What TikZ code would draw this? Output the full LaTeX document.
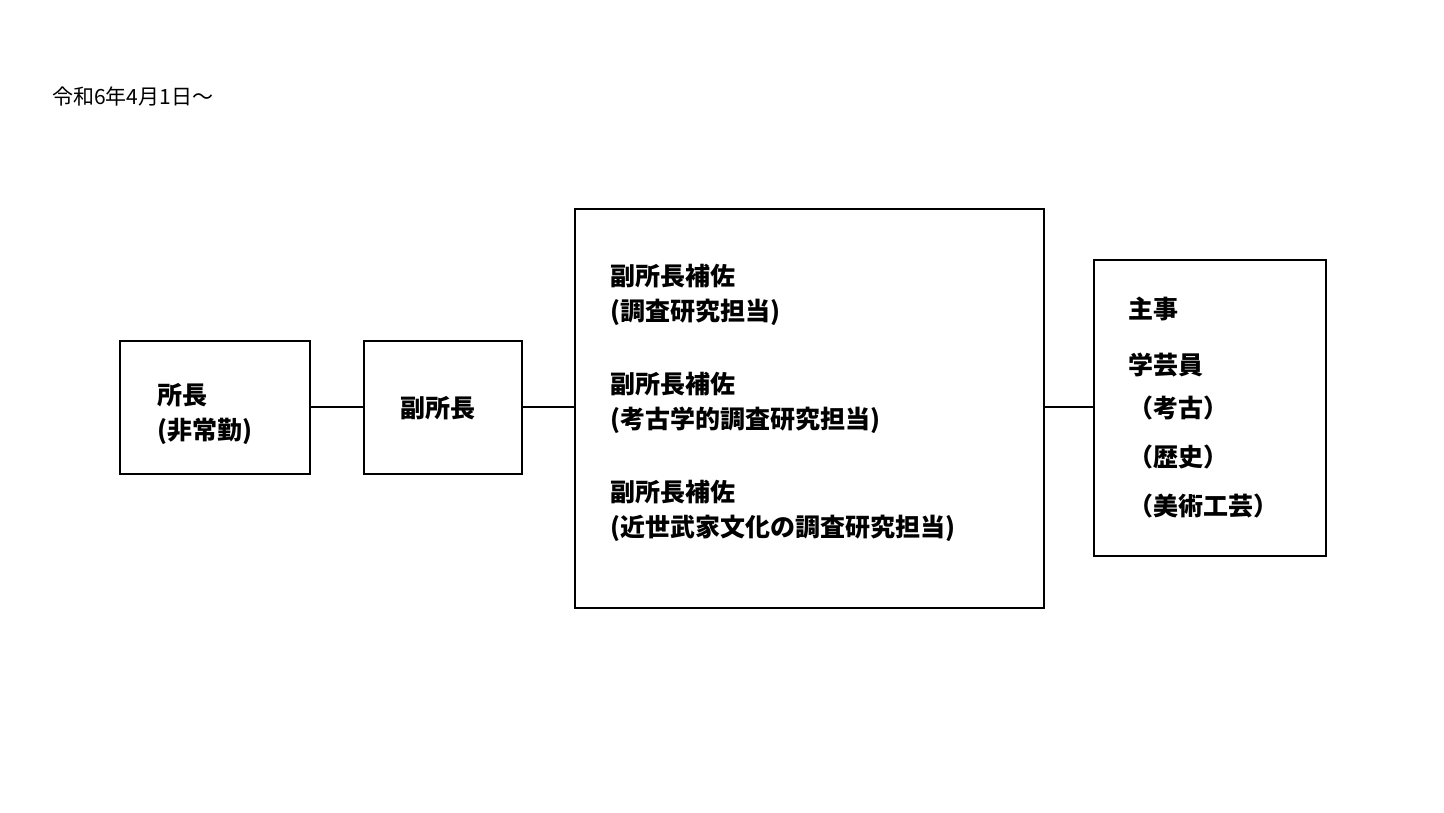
\documentclass[tikz,border=0pt]{standalone}
\usepackage{fontspec}
\setmainfont{Noto Sans CJK JP}
\begin{document}
\begin{tikzpicture}[x=1pt,y=-1pt,
  boxst/.style={draw,line width=2.6pt},
  lbl/.style={anchor=west,inner sep=0pt,font=\fontsize{25}{30}\selectfont\bfseries},
  conn/.style={line width=2.6pt}]
\useasboundingbox (0,0) rectangle (1444,813);
\node[anchor=west,inner sep=0pt,font=\fontsize{21}{25}\selectfont] (title) at (52,96) {令和6年4月1日～};
\draw[boxst] (120,341) rectangle (310,474);
\draw[boxst] (364,341) rectangle (522,474);
\draw[boxst] (575,209) rectangle (1044,608);
\draw[boxst] (1094,260) rectangle (1326,556);
\coordinate (b1r) at (310,407); \coordinate (b2l) at (364,407);
\coordinate (b2r) at (522,407); \coordinate (b3l) at (575,407);
\coordinate (b3r) at (1044,407); \coordinate (b4l) at (1094,407);
\draw[conn] (b1r) -- (b2l);
\draw[conn] (b2r) -- (b3l);
\draw[conn] (b3r) -- (b4l);
\node[lbl] (a1) at (157,395) {所長};
\node[lbl] (a2) at (157,431) {(非常勤)};
\node[lbl] (b1) at (400,408) {副所長};
\node[lbl] (c1) at (610,276) {副所長補佐};
\node[lbl] (c2) at (610,312) {(調査研究担当)};
\node[lbl] (c3) at (610,384) {副所長補佐};
\node[lbl] (c4) at (610,420) {(考古学的調査研究担当)};
\node[lbl] (c5) at (610,492) {副所長補佐};
\node[lbl] (c6) at (610,528) {(近世武家文化の調査研究担当)};
\node[lbl] (d1) at (1128,309) {主事};
\node[lbl] (d2) at (1128,365) {学芸員};
\node[lbl] (d3) at (1128,408) {（考古）};
\node[lbl] (d4) at (1128,457) {（歴史）};
\node[lbl] (d5) at (1128,506) {（美術工芸）};
\end{tikzpicture}
\end{document}
